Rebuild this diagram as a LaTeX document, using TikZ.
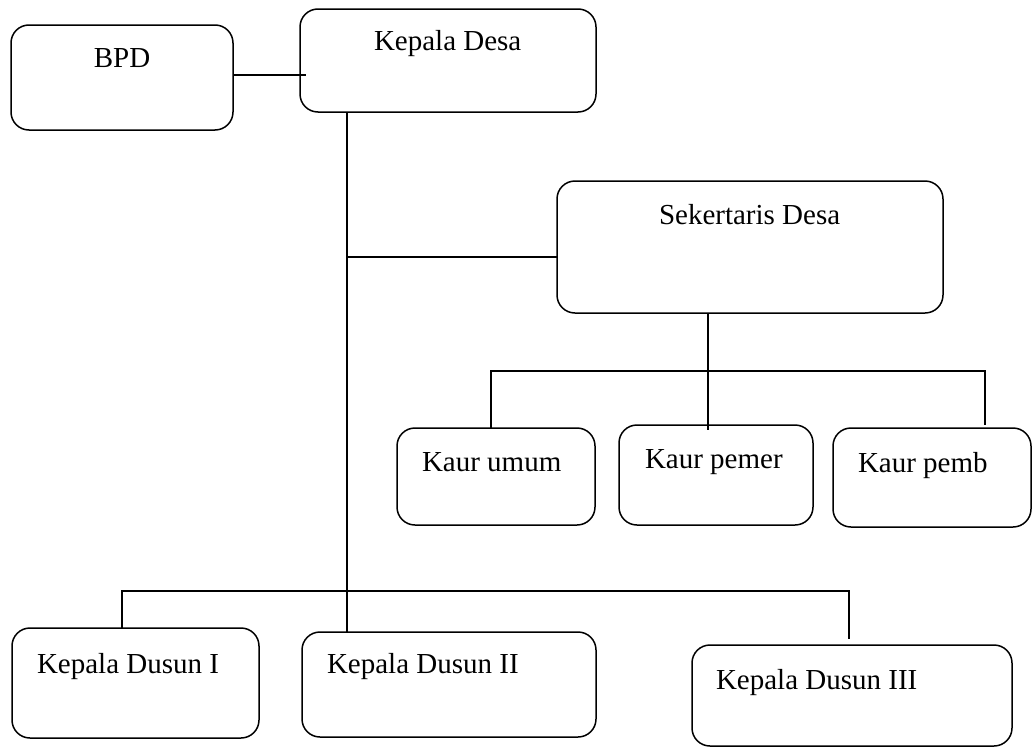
\documentclass[tikz,border=0pt]{standalone}
\usepackage{fontspec}
\setmainfont{Liberation Serif}
\usetikzlibrary{calc}
\begin{document}
\begin{tikzpicture}[x=1pt,y=-1pt,
  box/.style={draw=black, line width=1.5pt, rounded corners=18pt, rectangle, inner sep=0pt, outer sep=0pt},
  lbl/.style={inner sep=0pt, outer sep=0pt, font=\fontsize{29}{34}\selectfont},
  conn/.style={draw=black, line width=1.5pt}]
\fill[white] (0,0) rectangle (1033,747);
\useasboundingbox (0,0) rectangle (1033,747);
% boxes
\node[box, minimum width=222pt, minimum height=105pt] (bpd) at (122,77.5) {};
\node[box, minimum width=296pt, minimum height=103pt] (kd) at (448,60.5) {};
\node[box, minimum width=386pt, minimum height=132pt] (sek) at (750,247) {};
\node[box, minimum width=198pt, minimum height=97pt] (kumum) at (496,476.5) {};
\node[box, minimum width=194pt, minimum height=100pt] (kpemer) at (716,475) {};
\node[box, minimum width=198pt, minimum height=99pt] (kpemb) at (932,477.5) {};
\node[box, minimum width=247pt, minimum height=110pt] (dusun1) at (135.5,683) {};
\node[box, minimum width=294pt, minimum height=105pt] (dusun2) at (449,684.5) {};
\node[box, minimum width=320pt, minimum height=101pt] (dusun3) at (852,695.5) {};
% labels
\node[lbl, anchor=base] (tbpd) at (122,67) {BPD};
\node[lbl, anchor=base west] (tkd) at (374,50) {Kepala Desa};
\node[lbl, anchor=base west] (tsek) at (659,224) {Sekertaris Desa};
\node[lbl, anchor=base west] (tkumum) at (422,471) {Kaur umum};
\node[lbl, anchor=base west] (tkpemer) at (645,468) {Kaur pemer};
\node[lbl, anchor=base west] (tkpemb) at (858,472) {Kaur pemb};
\node[lbl, anchor=base west] (tdusun1) at (37,673) {Kepala Dusun I};
\node[lbl, anchor=base west] (tdusun2) at (327,673) {Kepala Dusun II};
\node[lbl, anchor=base west] (tdusun3) at (716,689) {Kepala Dusun III};
% junction coordinates
\coordinate (kdlink) at (306,75);
\coordinate (trunkS) at (347,257);
\coordinate (kbus) at (708,371);
\coordinate (kl) at (491,371);
\coordinate (kr) at (985,371);
\coordinate (dl) at (122,591);
\coordinate (dr) at (849,591);
% connectors
\draw[conn] (bpd.east |- kdlink) -- (kdlink);
\draw[conn] (kd.south -| trunkS) -- (dusun2.north -| trunkS);
\draw[conn] (trunkS) -- (sek.west |- trunkS);
\draw[conn] (sek.south -| kbus) -- ($(kpemer.north -| kbus)+(0,5)$);
\draw[conn] (kumum.north -| kl) -- (kl) -- (kr) -- ($(kpemb.north -| kr)+(0,-3)$);
\draw[conn] (dusun1.north -| dl) -- (dl) -- (dr) -- ($(dusun3.north -| dr)+(0,-6)$);
\end{tikzpicture}
\end{document}
